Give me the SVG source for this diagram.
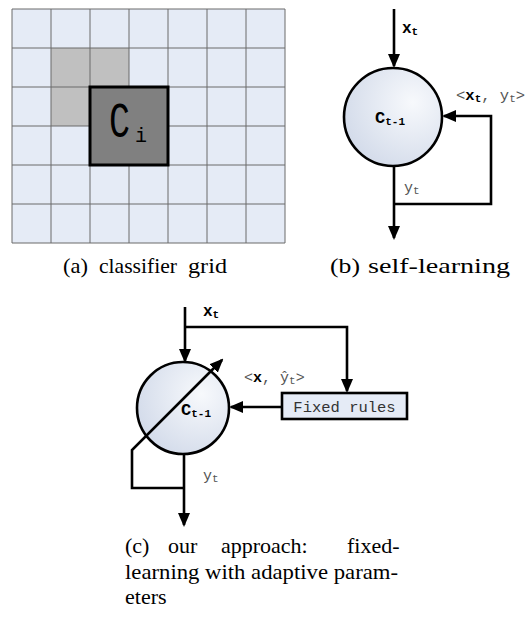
<svg xmlns="http://www.w3.org/2000/svg" width="529" height="617" viewBox="0 0 529 617">
<defs>
<marker id="ah" markerUnits="userSpaceOnUse" markerWidth="14" markerHeight="12" viewBox="0 0 14 12" refX="12" refY="6" orient="auto">
<path d="M0,0 L14,6 L0,12 z" fill="#000"/>
</marker>
<radialGradient id="cg" cx="0.7" cy="0.35" r="0.75">
<stop offset="0" stop-color="#f7f9fc"/>
<stop offset="1" stop-color="#d3dbea"/>
</radialGradient>
<style>
.gl{stroke:#6b6b6b;stroke-width:1;fill:none}
.con{stroke:#000;stroke-width:2.6;fill:none}
.arr{marker-end:url(#ah)}
.node{fill:url(#cg);stroke:#000;stroke-width:2.6}
.mono{font-family:"Liberation Mono","DejaVu Sans Mono",monospace}
.bold{font-weight:bold;fill:#000}
.grey{fill:#555}
.cap{font-family:"Liberation Serif","Times New Roman",serif;font-size:22px;fill:#000}
</style>
</defs>
<rect width="529" height="617" fill="#fff"/>

<!-- (a) classifier grid -->
<g id="grid">
<rect x="12" y="9" width="273" height="234" fill="#e5ebf6"/>
<rect x="51" y="48" width="78" height="78" fill="#c0c0c0"/>
<path class="gl" d="M12,9V243M51,9V243M90,9V243M129,9V243M168,9V243M207,9V243M246,9V243M285,9V243M12,9H285M12,48H285M12,87H285M12,126H285M12,165H285M12,204H285M12,243H285"/>
</g>
<g id="ci">
<rect x="90" y="87" width="78" height="78" fill="#808080" stroke="#000" stroke-width="3"/>
<g transform="scale(1,1.45)">
<text class="mono" x="109" y="94.5" font-size="35" fill="#000">C</text>
</g>
<text class="mono" x="135" y="142" font-size="20" fill="#000">i</text>
</g>

<!-- (b) self-learning -->
<g id="connectors-b">
<line class="con arr" x1="394" y1="9" x2="394" y2="66"/>
<line class="con arr" x1="394" y1="166" x2="394" y2="238"/>
<polyline class="con arr" points="394,204 491,204 491,116 444,116"/>
</g>
<g id="node-b">
<circle class="node" cx="393" cy="117" r="49"/>
<text class="mono bold" x="375" y="123" font-size="17">C<tspan font-size="11" dy="2">t-1</tspan></text>
</g>
<g id="labels-b">
<text class="mono bold" x="402" y="33" font-size="16">x<tspan font-size="11" dy="2">t</tspan></text>
<text class="mono" x="456" y="100" font-size="15.5"><tspan class="grey">&lt;</tspan><tspan class="bold">x</tspan><tspan class="bold" font-size="11" dy="2">t</tspan><tspan class="grey" dy="-2">, y</tspan><tspan class="grey" font-size="11" dy="2">t</tspan><tspan class="grey" dy="-2">&gt;</tspan></text>
<text class="mono grey" x="404" y="192" font-size="15">y<tspan font-size="11" dy="2">t</tspan></text>
</g>

<!-- (c) our approach -->
<g id="connectors-c">
<line class="con arr" x1="185" y1="307" x2="185" y2="361"/>
<polyline class="con arr" points="185,327 347,327 347,391"/>
<line class="con arr" x1="282" y1="407" x2="231" y2="407"/>
<line class="con arr" x1="184" y1="454" x2="184" y2="525"/>
</g>
<g id="node-c">
<circle class="node" cx="183" cy="408" r="46"/>
<text class="mono bold" x="181" y="415" font-size="17">C<tspan font-size="11" dy="2">t-1</tspan></text>
</g>
<g id="adapt">
<polyline class="con arr" points="184,488 132,488 132,450 222,360"/>
</g>
<g id="fixed-rules">
<rect x="282" y="393" width="125" height="26" fill="#e5ebf6" stroke="#000" stroke-width="2.6"/>
<text class="mono" x="344.5" y="411.5" font-size="15.5" text-anchor="middle" fill="#333">Fixed rules</text>
</g>
<g id="labels-c">
<text class="mono bold" x="203" y="316" font-size="16">x<tspan font-size="11" dy="2">t</tspan></text>
<text class="mono" x="244" y="382" font-size="15"><tspan class="grey">&lt;</tspan><tspan class="bold">x</tspan><tspan class="grey">, ŷ</tspan><tspan class="grey" font-size="11" dy="2">t</tspan><tspan class="grey" dy="-2">&gt;</tspan></text>
<text class="mono grey" x="203" y="480" font-size="15">y<tspan font-size="11" dy="2">t</tspan></text>
</g>

<!-- captions -->
<g id="captions">
<text class="cap" x="63" y="273" textLength="25" lengthAdjust="spacingAndGlyphs">(a)</text>
<text class="cap" x="99" y="273" textLength="78" lengthAdjust="spacingAndGlyphs">classifier</text>
<text class="cap" x="188" y="273" textLength="39" lengthAdjust="spacingAndGlyphs">grid</text>
<text class="cap" x="330" y="273" textLength="30" lengthAdjust="spacingAndGlyphs">(b)</text>
<text class="cap" x="368" y="273" textLength="142" lengthAdjust="spacingAndGlyphs">self-learning</text>
<text class="cap" y="553"><tspan x="125">(c)</tspan><tspan x="168">our</tspan><tspan x="221">approach:</tspan><tspan x="347">fixed-</tspan></text>
<text class="cap" x="125" y="579" textLength="273" lengthAdjust="spacingAndGlyphs">learning with adaptive param-</text>
<text class="cap" x="125" y="604">eters</text>
</g>
</svg>
